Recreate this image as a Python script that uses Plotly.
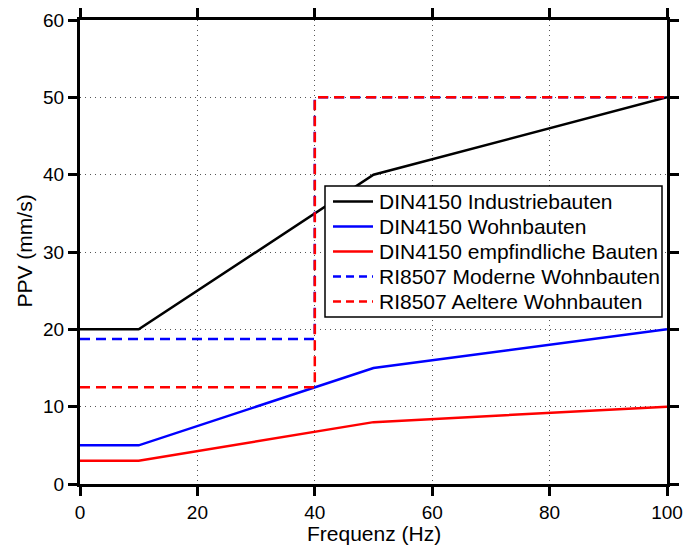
import plotly.graph_objects as go

din_x = [0, 10, 50, 100]
din_industrie = [20, 20, 40, 50]
din_wohn = [5, 5, 15, 20]
din_empf = [3, 3, 8, 10]

ri_x = [0, 40, 40, 100]
ri_modern = [18.75, 18.75, 50, 50]
ri_alt = [12.5, 12.5, 50, 50]

names = ["DIN4150 Industriebauten", "DIN4150 Wohnbauten", "DIN4150 empfindliche Bauten",
         "RI8507 Moderne Wohnbauten", "RI8507 Aeltere Wohnbauten"]
colors = ["black", "blue", "red", "blue", "red"]
dashes = ["solid", "solid", "solid", "10px,6px", "10px,6px"]

FONT = "Liberation Sans, Arial"

W, H = 686, 545
ML, MT, MR, MB = 80, 20, 19, 61
PX0, PY0 = ML, MT
PW, PH = W - ML - MR, H - MT - MB


def px(x):
    return (x - PX0) / PW


def py(y):
    return 1 - (y - PY0) / PH


fig = go.Figure()
series_x = [din_x, din_x, din_x, ri_x, ri_x]
series_y = [din_industrie, din_wohn, din_empf, ri_modern, ri_alt]
for nm, xs, ys, c, d in zip(names, series_x, series_y, colors, dashes):
    fig.add_trace(go.Scatter(x=xs, y=ys, mode="lines", name=nm, showlegend=False,
                             line=dict(color=c, width=2.5, dash=d)))

axis_common = dict(
    showline=True, linecolor="black", linewidth=3, mirror="ticks",
    ticks="outside", ticklen=9, tickwidth=3, tickcolor="black",
    showgrid=True, gridcolor="#555", griddash="1px,4px", gridwidth=1,
    zeroline=False, automargin=False,
    tickfont=dict(family=FONT, size=19, color="black"),
)

shapes = []
annotations = []

# legend box
LX0, LX1, LY0, LY1 = 325, 662, 186, 317
shapes.append(dict(type="rect", xref="paper", yref="paper", x0=px(LX0), x1=px(LX1),
                   y0=py(LY1), y1=py(LY0), fillcolor="white",
                   line=dict(color="black", width=1.5), layer="above"))
row_y = [201.5, 226.5, 251.5, 276.5, 301.5]
for nm, c, d, ry in zip(names, colors, dashes, row_y):
    shapes.append(dict(type="line", xref="paper", yref="paper", x0=px(333), x1=px(373),
                       y0=py(ry), y1=py(ry), line=dict(color=c, width=2.5,
                       dash=("solid" if d == "solid" else "8px,5px")), layer="above"))
    annotations.append(dict(text=nm, xref="paper", yref="paper", x=px(377), y=py(ry),
                            xanchor="left", yanchor="middle", showarrow=False,
                            font=dict(size=21, family=FONT, color="black")))

annotations.append(dict(text="Frequenz (Hz)", xref="paper", yref="paper", x=0.5, y=0,
                        xanchor="center", yanchor="top", yshift=-36, showarrow=False,
                        font=dict(size=21, family=FONT, color="black")))
annotations.append(dict(text="PPV (mm/s)", xref="paper", yref="paper", x=0, y=py(251.5),
                        xanchor="center", yanchor="middle", xshift=-56, textangle=-90,
                        showarrow=False, font=dict(size=21, family=FONT, color="black")))

fig.update_layout(
    width=W, height=H,
    margin=dict(l=ML, r=MR, t=MT, b=MB),
    paper_bgcolor="white", plot_bgcolor="white",
    font=dict(family=FONT, color="black"),
    xaxis=dict(range=[0, 100], tickvals=[0, 20, 40, 60, 80, 100], **axis_common),
    yaxis=dict(range=[0, 60], tickvals=[0, 10, 20, 30, 40, 50, 60], **axis_common),
    showlegend=False,
    shapes=shapes,
    annotations=annotations,
)

fig.write_html(
    "out.html",
    config={"displayModeBar": False},
    post_script="document.body.style.margin='0';document.body.style.overflow='hidden';"
                "document.documentElement.style.overflow='hidden';",
)
